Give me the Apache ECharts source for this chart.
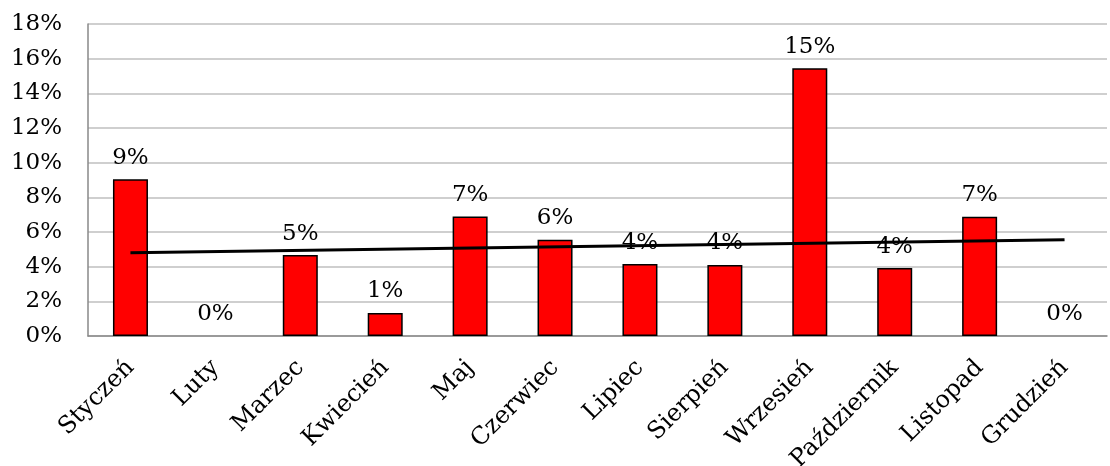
<!DOCTYPE html>
<html>
<head>
<meta charset="utf-8">
<script src="https://cdn.jsdelivr.net/npm/echarts@6/dist/echarts.min.js"></script>
<style>
  html, body { margin: 0; padding: 0; background: #fff; }
  #chart { width: 1110px; height: 466px; }
</style>
</head>
<body>
<div id="chart"></div>
<script>
  // miesiące
  var months = ['Styczeń', 'Luty', 'Marzec', 'Kwiecień', 'Maj', 'Czerwiec', 'Lipiec',
    'Sierpień', 'Wrzesień', 'Październik', 'Listopad', 'Grudzień']
  // udział procentowy
  var shares = [9.05, 0, 4.67, 1.33, 6.9, 5.55, 4.15, 4.1, 15.45, 3.92, 6.88, 0]
  // linia trendu - punkty końcowe
  var trendMonths = ['Styczeń', 'Grudzień']
  var trendValues = [4.8, 5.55]
  var yTicks = [0, 2, 4, 6, 8, 10, 12, 14, 16, 18]

  var font = 'DejaVu Serif'
  var chart = echarts.init(document.getElementById('chart'))

  chart.setOption({
    animation: false,
    grid: { left: 88, right: 3, top: 24, bottom: 130, outerBoundsMode: 'none' },
    xAxis: {
      type: 'category',
      data: months,
      axisLine: { lineStyle: { color: '#898989', width: 1.5 } },
      axisTick: { show: false },
      axisLabel: {
        interval: 0,
        rotate: 45,
        margin: 28,
        color: '#000',
        fontFamily: font,
        fontSize: 24
      }
    },
    yAxis: {
      type: 'value',
      min: yTicks[0],
      max: yTicks[yTicks.length - 1],
      interval: 2,
      axisLine: { show: true, lineStyle: { color: '#898989', width: 1.5 } },
      axisTick: { show: false },
      splitLine: { lineStyle: { color: '#bfbfbf', width: 1.5 } },
      axisLabel: {
        margin: 26,
        color: '#000',
        fontFamily: font,
        fontSize: 23,
        formatter: '{value}%'
      }
    },
    series: [{
      type: 'bar',
      // słupki zerowe bez obramowania
      data: shares.map(function (v) {
        return v === 0 ? { value: v, itemStyle: { borderWidth: 0 } } : v
      }),
      barWidth: 35,
      itemStyle: { color: '#ff0000', borderColor: '#000', borderWidth: 1.5 },
      label: {
        show: true,
        position: 'top',
        distance: 10,
        color: '#000',
        fontFamily: font,
        fontSize: 23,
        formatter: function (p) { return Math.round(p.value) + '%' }
      },
      z: 2
    }, {
      type: 'line',
      data: trendMonths.map(function (m, i) { return [m, trendValues[i]] }),
      symbol: 'none',
      lineStyle: { color: '#000', width: 3 },
      z: 5
    }]
  })
</script>
</body>
</html>
